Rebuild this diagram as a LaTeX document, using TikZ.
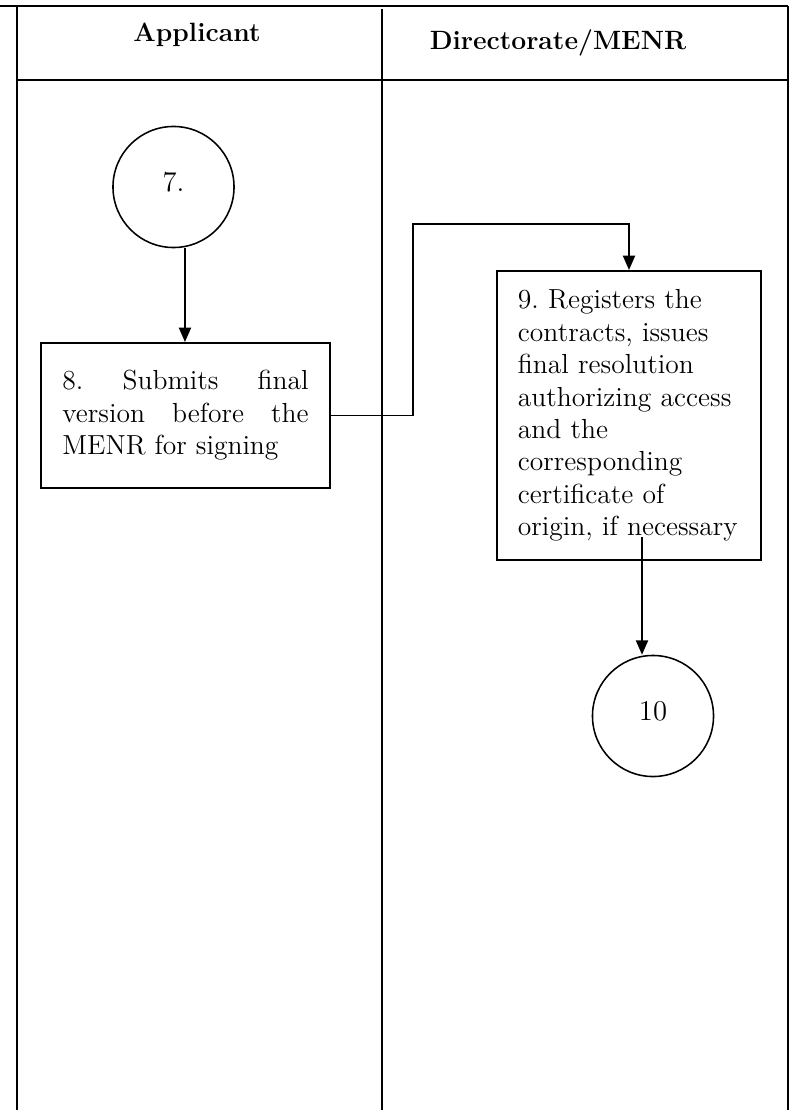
\documentclass[tikz,border=0pt]{standalone}
\usepackage{amsmath}
\usepackage{tikz}
\usetikzlibrary{arrows.meta}

\tikzset{
  lane/.style={line width=1pt},
  stepbox/.style={draw, line width=0.9pt, inner ysep=0pt, font=\fontsize{12.5}{14.7}\selectfont\frenchspacing},
  endpoint/.style={circle, draw, line width=0.7pt, minimum size=54.9pt, inner sep=0pt, font=\fontsize{13}{15}\selectfont},
  flow/.style={->, line width=0.75pt},
  header/.style={anchor=base, font=\bfseries\fontsize{12}{14}\selectfont}
}

\begin{document}
\begin{tikzpicture}[x=0.4535pt, y=-0.4535pt, >={Triangle[length=6.5pt,width=5.5pt]}]
                \useasboundingbox (0,0) rectangle (791,1110);

                % Lanes
                \draw[lane] (0,6) -- (788,6);
                \draw[lane] (17,6) -- (17,1110);
                \draw[lane] (382,9) -- (382,1110);
                \draw[lane] (788,6) -- (788,1110);
                \draw[lane] (17,80) -- (788,80);

                % Headers
                \node[header] (hApp) at (197,42) {Applicant};
                \node[header] (hDir) at (558,50) {Directorate/MENR};

                % Steps
                \node[endpoint] (c7) at (173.5,187) {\raisebox{4.5pt}{7.}};
                \node[stepbox, align=justify, text width=111.6pt, inner xsep=9.75pt, minimum height=65.8pt] (b8) at (185.5,415.5)
                    {8. Submits final\linebreak version before the\linebreak MENR for signing};
                \node[stepbox, align=left, text width=100.7pt, inner xsep=9.5pt, minimum height=131.1pt] (b9) at (629,415.5)
                    {9. Registers the\\ contracts, issues\\ final resolution\\ authorizing access\\ and the\\ corresponding\\ certificate of\\ origin, if necessary};
                \node[endpoint] (c10) at (653,716) {\raisebox{4.5pt}{10}};

                % Flow
                \coordinate (a7) at ([xshift=5.2pt]c7.south);
                \draw[flow] (a7) -- (a7 |- b8.north);
                \coordinate (jog) at (413,224);
                \draw[flow] (b8.east) -| (jog) -| (b9.north);
                \coordinate (s9) at (642,537);
                \draw[flow] (s9) -- (s9 |- c10.north);
            \end{tikzpicture}
\end{document}
